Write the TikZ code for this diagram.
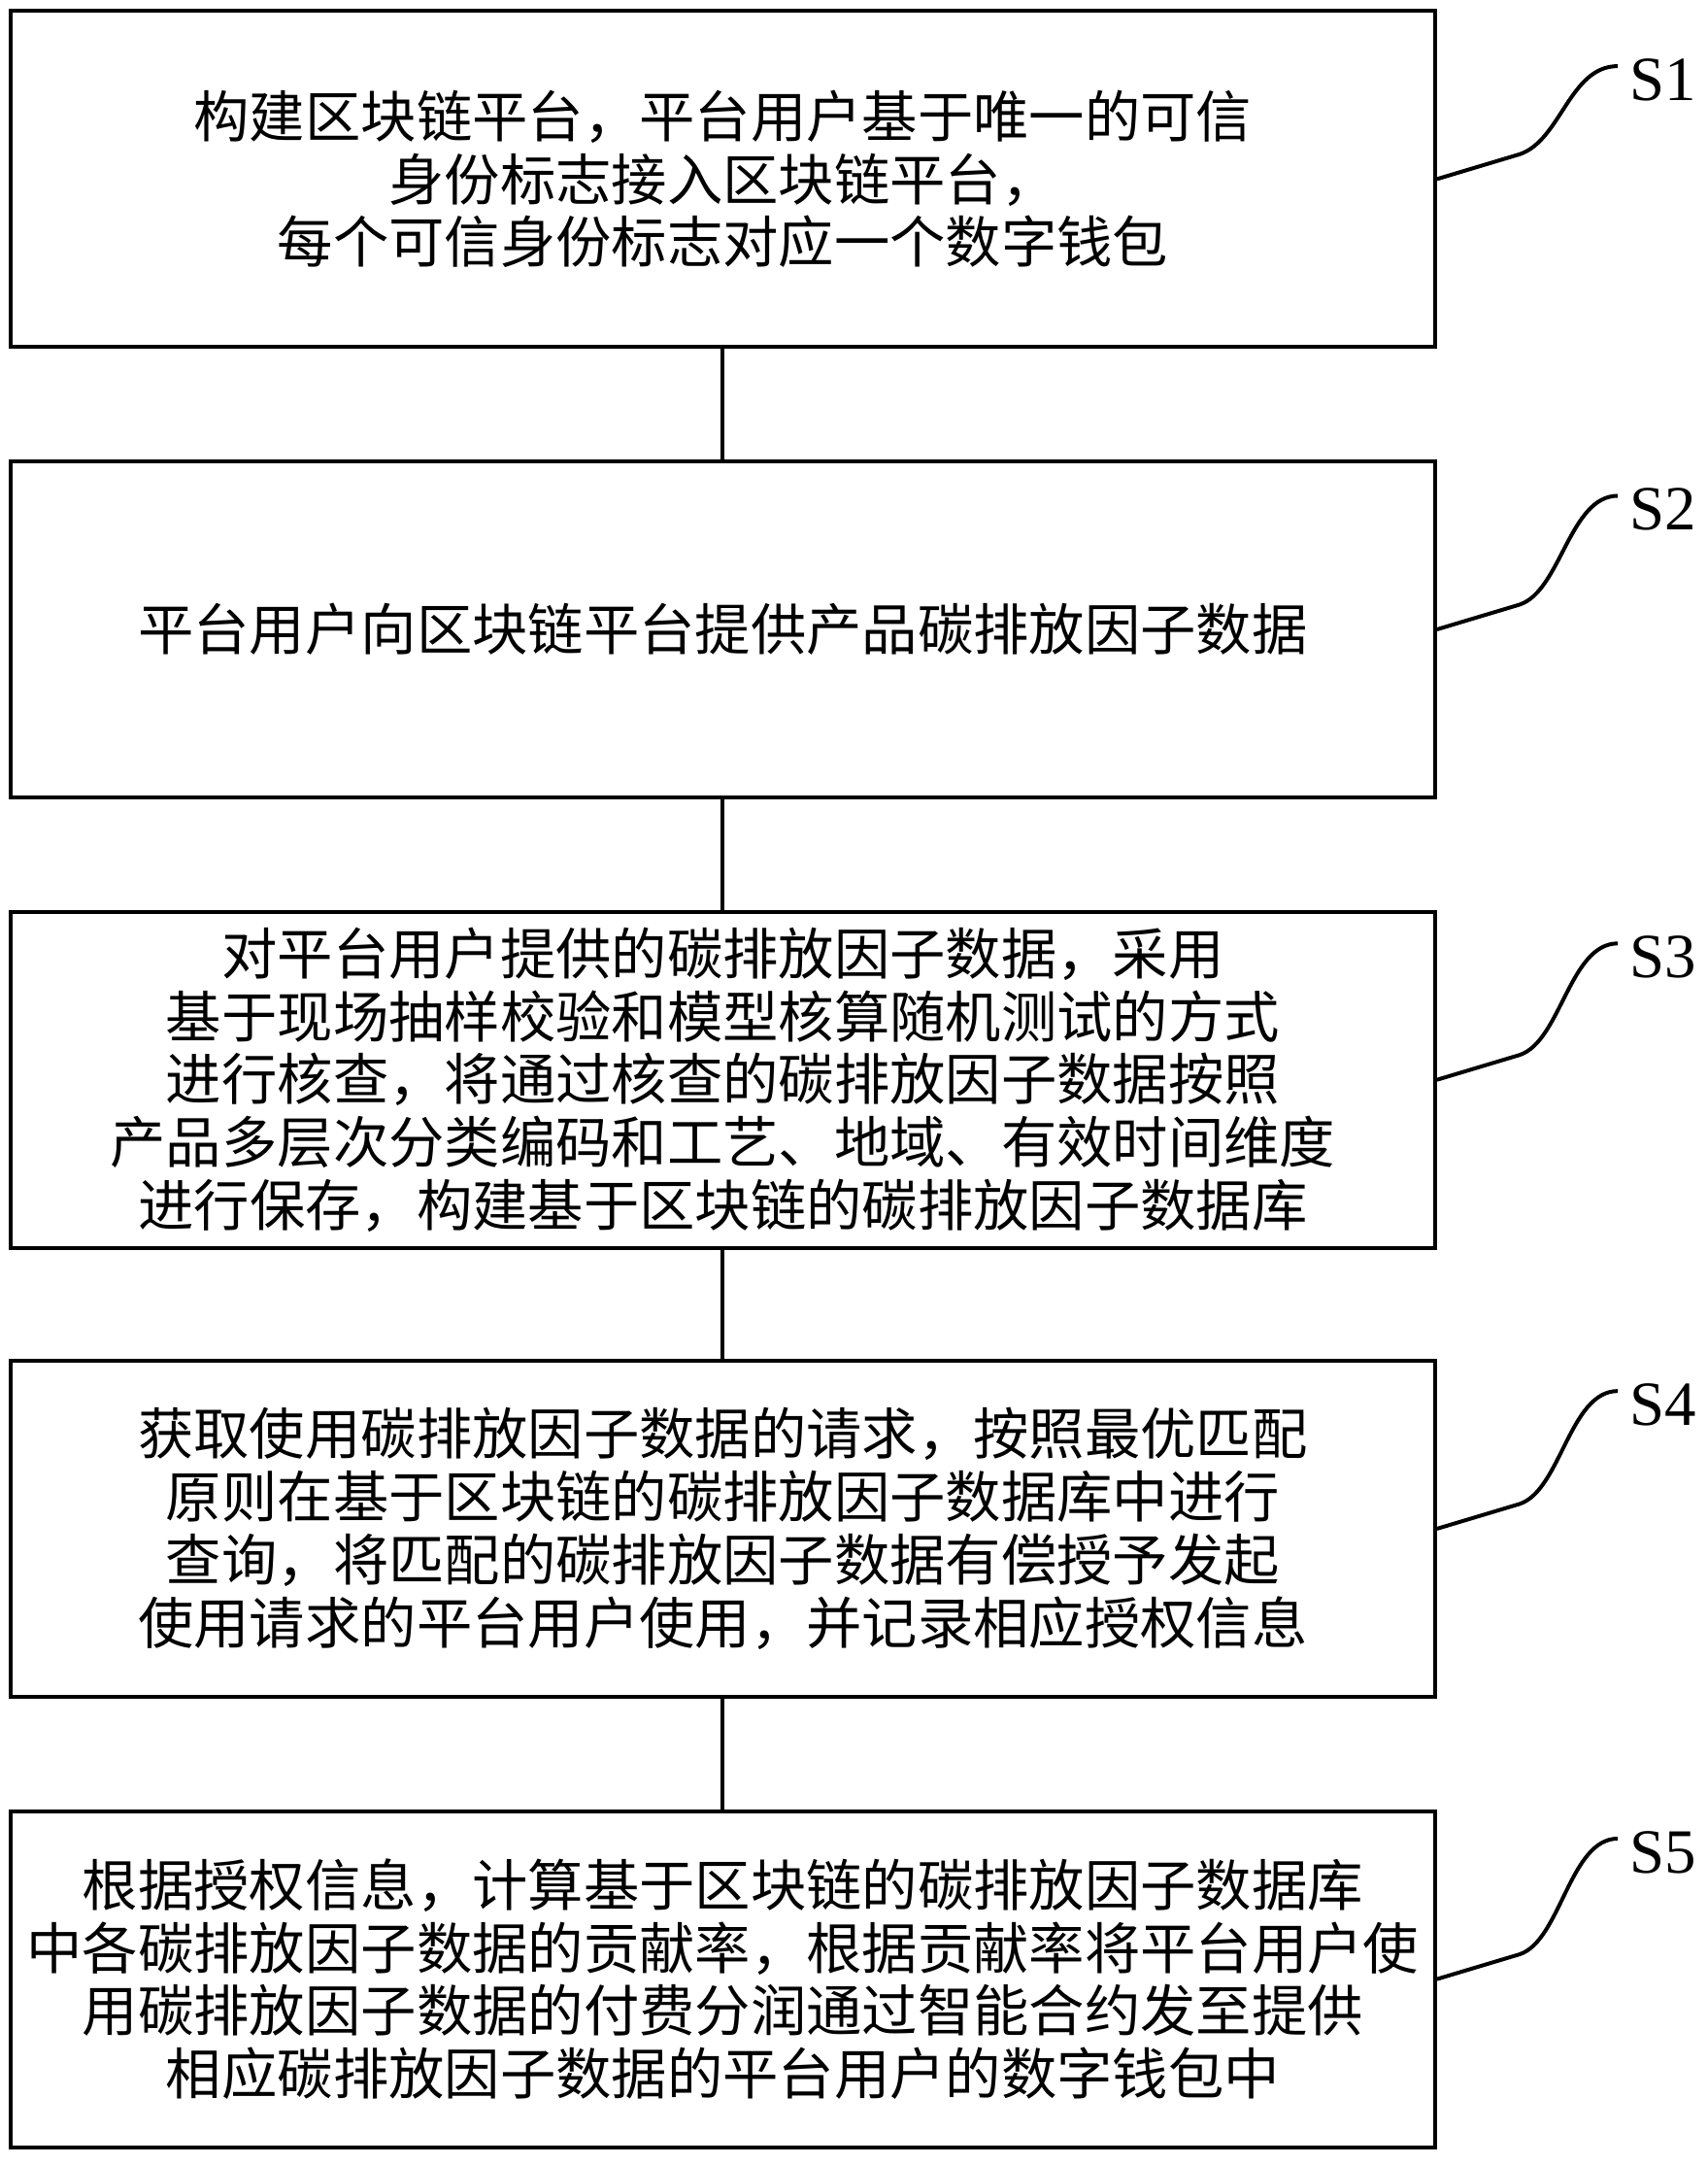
\documentclass[tikz,border=0pt]{standalone}
\usepackage{fontspec}
\setmainfont{Liberation Serif}
\newfontfamily\cjk{Noto Sans CJK SC}
\usetikzlibrary{positioning}
\tikzset{
  stepbox/.style={draw,thick,minimum width=10.34cm,minimum height=2.44cm,text height=,align=center,
    font=\cjk\fontsize{11.5}{13}\selectfont,inner sep=0pt},
  steplabel/.style={font=\fontsize{13}{15}\selectfont},
  lead/.style={thick}
}
\begin{document}
\begin{tikzpicture}[x=0.01cm,y=-0.01cm]
\useasboundingbox (0,0) rectangle (1240,1572);

%Boxes
\node[stepbox] (s1) at (525,130){构建区块链平台，平台用户基于唯一的可信\\身份标志接入区块链平台，\\每个可信身份标志对应一个数字钱包};
\node[stepbox] (s2) at (525,457){平台用户向区块链平台提供产品碳排放因子数据};
\node[stepbox] (s3) at (525,784){对平台用户提供的碳排放因子数据，采用\\基于现场抽样校验和模型核算随机测试的方式\\进行核查，将通过核查的碳排放因子数据按照\\产品多层次分类编码和工艺、地域、有效时间维度\\进行保存，构建基于区块链的碳排放因子数据库};
\node[stepbox] (s4) at (525,1110){获取使用碳排放因子数据的请求，按照最优匹配\\原则在基于区块链的碳排放因子数据库中进行\\查询，将匹配的碳排放因子数据有偿授予发起\\使用请求的平台用户使用，并记录相应授权信息};
\node[stepbox] (s5) at (525,1437){根据授权信息，计算基于区块链的碳排放因子数据库\\中各碳排放因子数据的贡献率，根据贡献率将平台用户使\\用碳排放因子数据的付费分润通过智能合约发至提供\\相应碳排放因子数据的平台用户的数字钱包中};

%Connectors
\draw[thick] (s1) -- (s2);
\draw[thick] (s2) -- (s3);
\draw[thick] (s3) -- (s4);
\draw[thick] (s4) -- (s5);

%Labels
\foreach \i/\y in {1/58,2/370,3/695,4/1020,5/1345}{
  \node[steplabel] (l\i) at (1208,\y){S\i};
  \coordinate (e\i) at (1175,\y-10);
  \draw[lead] (s\i.east) -- ++(60,-18) .. controls +(30,-10) and +(-35,0) .. (e\i);
}
\end{tikzpicture}
\end{document}
